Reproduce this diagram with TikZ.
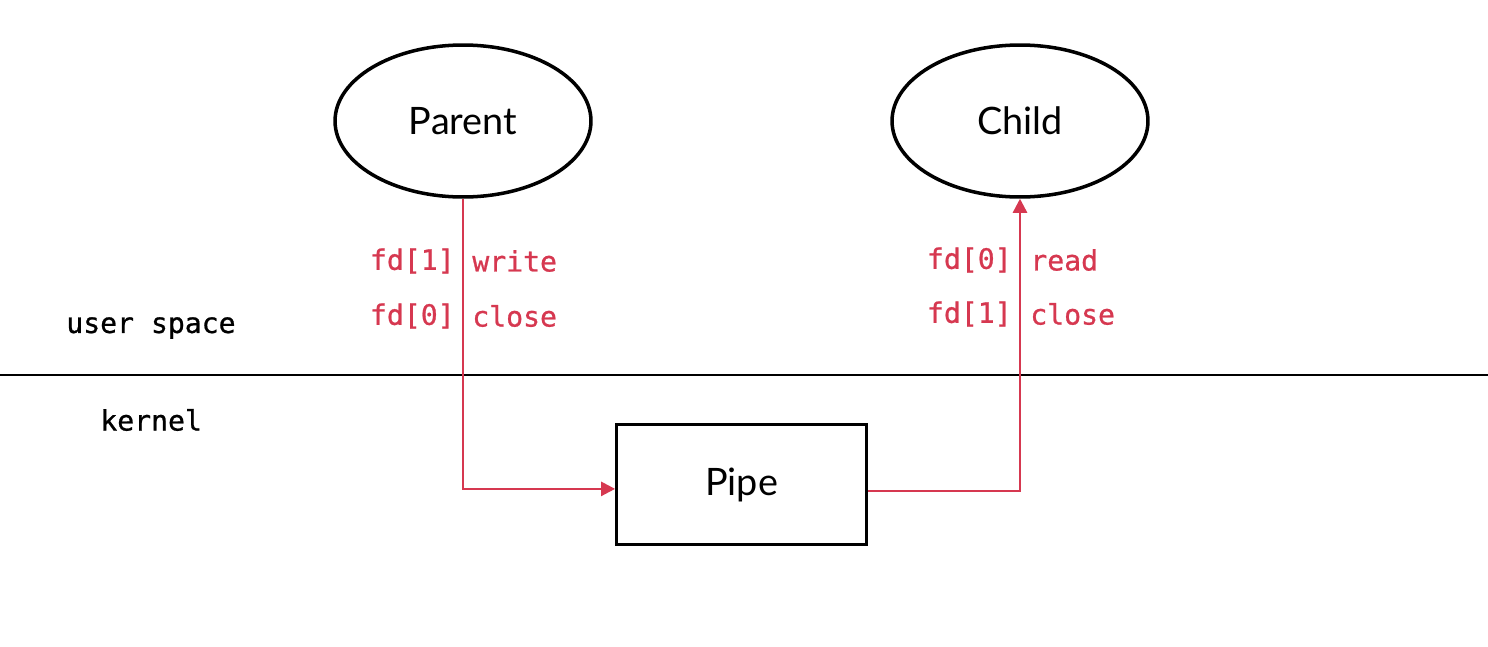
\documentclass[tikz,border=0pt]{standalone}
\usepackage{fontspec}
\setmainfont{Lato}
\setmonofont{DejaVu Sans Mono}[BoldFont={DejaVu Sans Mono},BoldFeatures={FakeBold=0.8}]
\usetikzlibrary{shapes.geometric,arrows.meta}
\definecolor{pipered}{RGB}{214,56,80}

\begin{document}
\begin{tikzpicture}[x=0.02cm,y=-0.02cm,
    proc/.style={draw,ellipse,line width=2pt,minimum width=5.12cm,minimum height=3.04cm,font=\fontsize{21.5}{26}\selectfont},
    pipebox/.style={draw,rectangle,line width=1.6pt,minimum width=5cm,minimum height=2.4cm,font=\fontsize{21.5}{26}\selectfont},
    fdlabel/.style={text=pipered,font=\ttfamily\bfseries\fontsize{16}{19}\selectfont,inner sep=0pt},
    spacelabel/.style={font=\ttfamily\bfseries\fontsize{16}{19}\selectfont,inner sep=0pt,anchor=west},
    flow/.style={draw=pipered,line width=1.4pt,-{Triangle[length=8pt,width=8pt]}}]

    \useasboundingbox (0,0) rectangle (1488,646);

    % these are the processes and the pipe
    \node[proc] (parent) at (463,121) {Parent};
    \node[proc] (child) at (1020,121) {Child};
    \node[pipebox] (pipe) at (741.5,484.5) {Pipe};

    % the border between user space and kernel
    \coordinate (left) at (0,375);
    \coordinate (right) at (1488,375);
    \draw[line width=1.5pt] (left) -- (right);
    \node[spacelabel] (user) at (66,328) {user space};
    \node[spacelabel] (kernel) at (100,420) {kernel};

    % the data flow
    \draw[flow] (parent.south) |- ([yshift=-2.5pt]pipe.west);
    \draw[flow] ([yshift=-3.7pt]pipe.east) -| (child.south);

    % what each side does with its ends
    \node[fdlabel,anchor=east] (pw1) at (455,261) {fd[1]};
    \node[fdlabel,anchor=west] (pw2) at (472,261) {write};
    \node[fdlabel,anchor=east] (pc1) at (455,316) {fd[0]};
    \node[fdlabel,anchor=west] (pc2) at (472,316) {close};
    \node[fdlabel,anchor=east] (cr1) at (1012,260) {fd[0]};
    \node[fdlabel,anchor=west] (cr2) at (1030,260) {read};
    \node[fdlabel,anchor=east] (cc1) at (1012,314) {fd[1]};
    \node[fdlabel,anchor=west] (cc2) at (1030,314) {close};
    
\end{tikzpicture}
\end{document}
